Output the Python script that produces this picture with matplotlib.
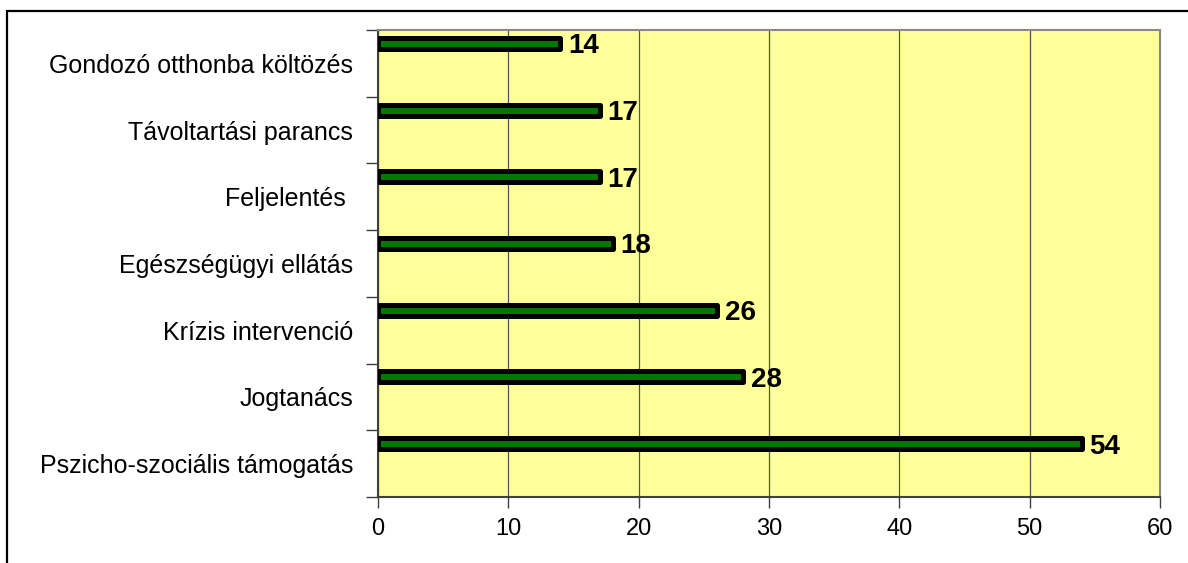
import matplotlib.pyplot as plt
from matplotlib.patches import Rectangle
import numpy as np

plt.rcParams['font.family'] = ['Liberation Sans', 'DejaVu Sans']

# categories top to bottom, with their counts
categories = ["Gondozó otthonba költözés", "Távoltartási parancs", "Feljelentés ",
              "Egészségügyi ellátás", "Krízis intervenció", "Jogtanács",
              "Pszicho-szociális támogatás"]
values = [14, 17, 17, 18, 26, 28, 54]
xticks = [0, 10, 20, 30, 40, 50, 60]

fig = plt.figure(figsize=(11.88, 5.63), dpi=100)
W, H = 1188, 563

# outer frame of the chart object
fig.patches.append(Rectangle((7 / W, -0.1), 1.2, 1 - 10.5 / H + 0.1,
                             transform=fig.transFigure, fill=False,
                             edgecolor='#000000', linewidth=1.6))

ax = fig.add_axes([378 / W, 1 - 497 / H, (1160 - 378) / W, (497 - 30) / H])
ax.set_facecolor('#FFFF99')

pos = np.arange(len(categories))
bar_pos = pos - 0.30
ax.barh(bar_pos, values, height=0.165, color='#007700', edgecolor='#000000',
        linewidth=3.6, joinstyle='round', zorder=3)

for y, v in zip(bar_pos, values):
    ax.text(v + 0.6, y, str(v), fontsize=20, fontweight='bold',
            va='center_baseline', ha='left', zorder=4)

ax.set_xlim(0, 60)
ax.set_ylim(len(categories) - 0.5, -0.5)
ax.set_xticks(xticks)
ax.set_xticklabels([str(t) for t in xticks], fontsize=17)
ax.xaxis.grid(True, color='#555555', linewidth=0.9, zorder=1)
ax.set_axisbelow(True)

ax.set_yticks(pos)
ax.set_yticklabels(categories, fontsize=18)
ax.set_yticks(np.arange(len(categories) + 1) - 0.5, minor=True)
ax.tick_params(axis='y', which='major', length=0, pad=18)
ax.tick_params(axis='y', which='minor', length=9, width=1.0, color='#404040')
ax.tick_params(axis='x', length=8, width=1.0, color='#404040', pad=7)

for side in ('top', 'right'):
    ax.spines[side].set_color('#888888')
    ax.spines[side].set_linewidth(1.5)
for side in ('left', 'bottom'):
    ax.spines[side].set_color('#404040')
    ax.spines[side].set_linewidth(1.5)

fig.savefig('out.png', dpi=100)
